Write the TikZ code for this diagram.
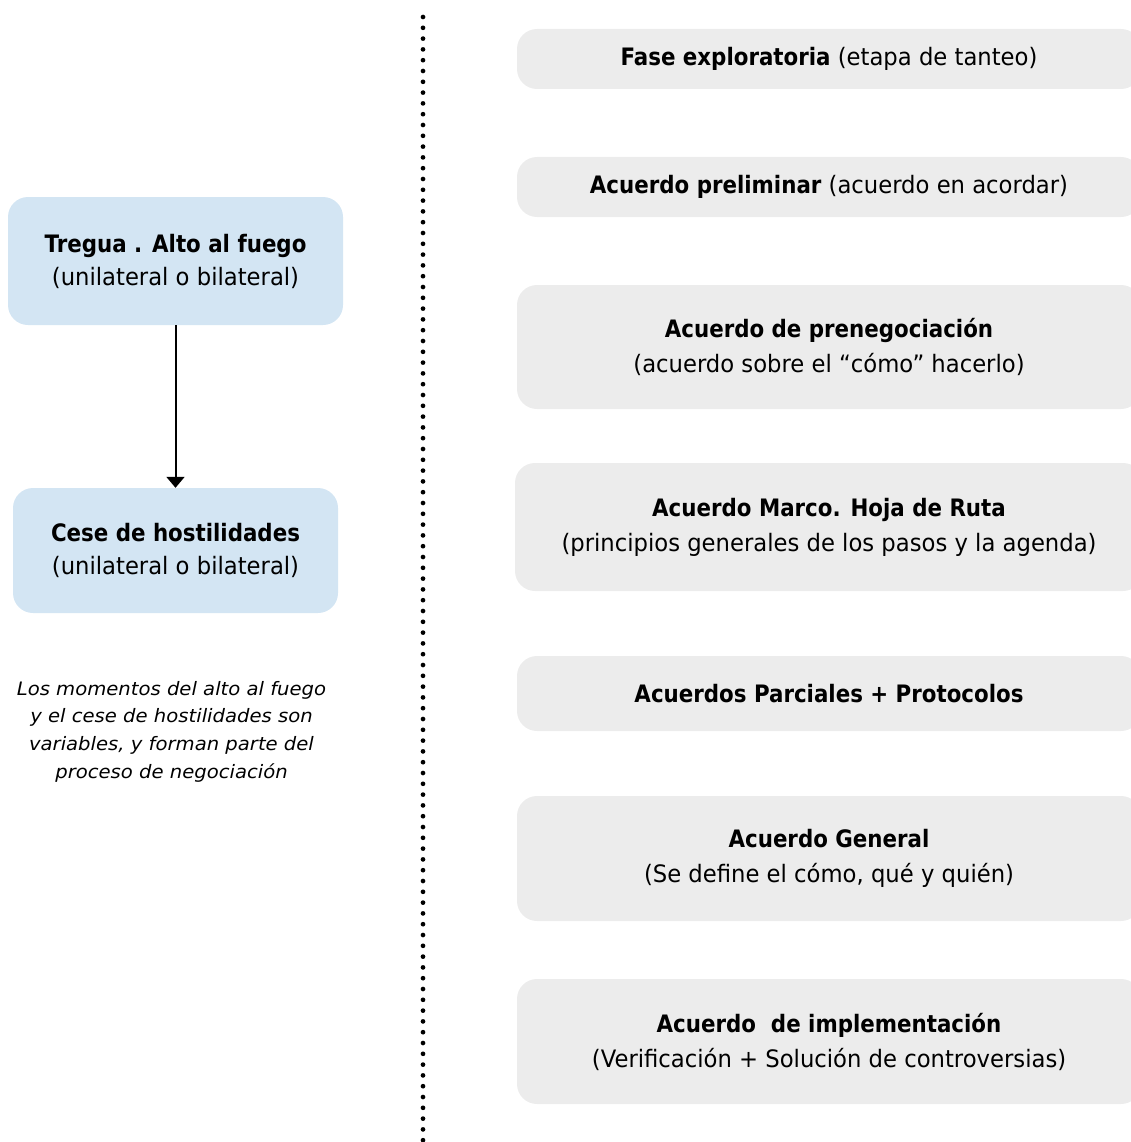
\documentclass[tikz,border=0pt]{standalone}
\usepackage{fontspec}
\setmainfont{DejaVu Sans}[FakeStretch=0.946]
\newfontfamily\bfam{DejaVu Sans}[FakeStretch=0.89]
\newfontfamily\nfam{DejaVu Sans}[FakeStretch=1.06]
\newcommand{\hb}[1]{{\bfam\bfseries #1}}
\usetikzlibrary{arrows.meta}
\definecolor{bluebox}{HTML}{D3E5F3}
\definecolor{greybox}{HTML}{ECECEC}
\tikzset{
  leftbox/.style={draw=none, fill=bluebox, rounded corners=20pt, align=center,
    font=\fontsize{24}{33}\selectfont, inner sep=0pt},
  rightbox/.style={draw=none, fill=greybox, rounded corners=20pt, align=center,
    font=\fontsize{24}{35}\selectfont, inner sep=0pt, minimum width=624pt},
  notetext/.style={align=center, font=\nfam\fontsize{18.5}{27.7}\selectfont\itshape, inner sep=0pt},
  flowarrow/.style={line width=2pt, -{Triangle[width=18pt,length=11pt]}},
  dotline/.style={line width=4.7pt, line cap=round, dash pattern=on 0pt off 10.8pt}
}
\begin{document}
\begin{tikzpicture}[x=1pt,y=-1pt]
\useasboundingbox (0,0) rectangle (1131,1142);
\clip (0,0) rectangle (1131,1142);
% left column
\node[leftbox, minimum width=335pt, minimum height=128pt] (tregua) at (175.5,261)
  {\hb{Tregua . Alto al fuego}\\(unilateral o bilateral)};
\node[leftbox, minimum width=325pt, minimum height=125pt] (cese) at (175.5,550.5)
  {\hb{Cese de hostilidades}\\(unilateral o bilateral)};
\draw[flowarrow] (tregua.south) -- (cese.north);
\node[notetext] (note) at (171.5,731.5)
  {Los momentos del alto al fuego\\y el cese de hostilidades son\\variables, y forman parte del\\proceso de negociación};
% dotted divider
\coordinate (dtop) at (423,17);
\coordinate (dbot) at (423,1150);
\draw[dotline] (dtop) -- (dbot);
% right column
\node[rightbox, minimum height=60pt] (r1) at (829,59)
  {\hb{Fase exploratoria} (etapa de tanteo)};
\node[rightbox, minimum height=60pt] (r2) at (829,187)
  {\hb{Acuerdo preliminar} (acuerdo en acordar)};
\node[rightbox, minimum height=124pt] (r3) at (829,347)
  {\hb{Acuerdo de prenegociación}\\(acuerdo sobre el “cómo” hacerlo)};
\node[rightbox, minimum height=128pt, minimum width=628pt] (r4) at (829,527)
  {\hb{Acuerdo Marco. Hoja de Ruta}\\(principios generales de los pasos y la agenda)};
\node[rightbox, minimum height=75pt] (r5) at (829,693.5)
  {\hb{Acuerdos Parciales + Protocolos}};
\node[rightbox, minimum height=125pt] (r6) at (829,858.5)
  {\hb{Acuerdo General}\\(Se define el cómo, qué y quién)};
\node[rightbox, minimum height=125pt] (r7) at (829,1041.5)
  {\hb{Acuerdo\ \ de implementación}\\(Verificación + Solución de controversias)};
\end{tikzpicture}
\end{document}
